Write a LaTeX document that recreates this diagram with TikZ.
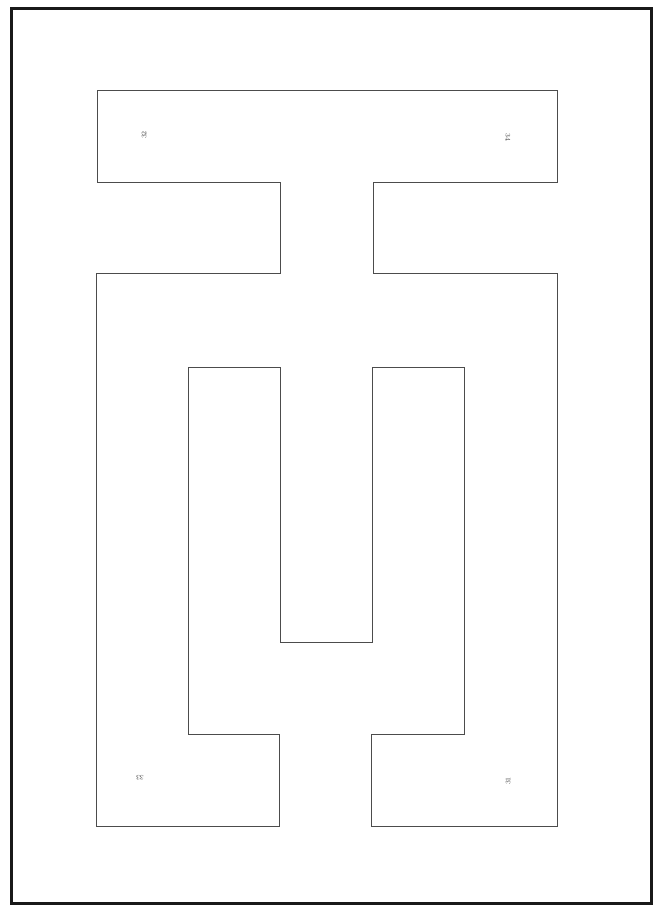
\documentclass[tikz,border=0pt]{standalone}
\begin{document}
\begin{tikzpicture}[x=1pt,y=-1pt,
  wall/.style={draw=black!70,line width=0.8pt,line join=miter},
  frame/.style={draw=black!90,line width=3pt},
  lbl/.style={font=\fontsize{7}{7}\selectfont,text=black!75,inner sep=0pt}]
\useasboundingbox (0,0) rectangle (662,910);
\fill[white] (0,0) rectangle (662,910);
\draw[frame] (11.5,8.5) rectangle (651.5,903);
\draw[wall] (97,90) -- (557,90) -- (557,182) -- (373,182) -- (373,273) -- (557,273)
  -- (557,826) -- (371,826) -- (371,734) -- (464,734) -- (464,367) -- (372,367)
  -- (372,642) -- (280,642) -- (280,367) -- (188,367) -- (188,734) -- (279,734)
  -- (279,826) -- (96,826) -- (96,273) -- (280,273) -- (280,182) -- (97,182) -- cycle;
\node[lbl,rotate=90] (l1) at (144,135) {32};
\node[lbl,rotate=-90] (l2) at (508,137) {34};
\node[lbl,rotate=180] (l3) at (140,778) {33};
\node[lbl,rotate=90] (l4) at (508,781) {31};
\end{tikzpicture}
\end{document}
